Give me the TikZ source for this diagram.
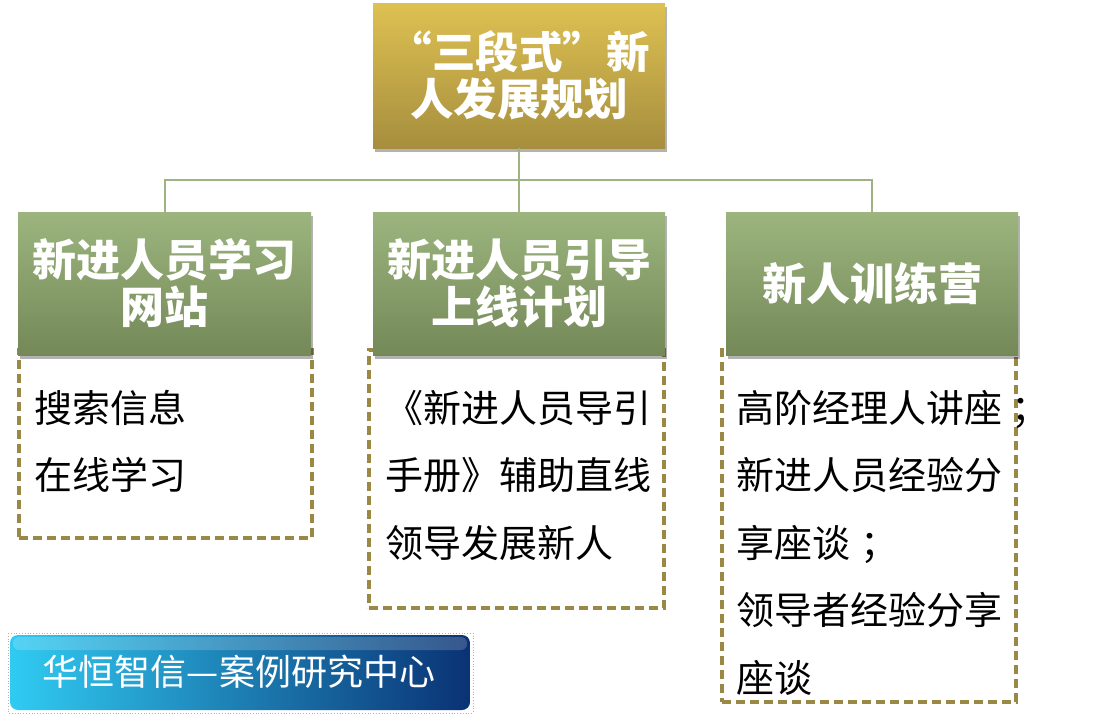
\documentclass[tikz,border=0pt]{standalone}
\usepackage{fontspec}
\newfontfamily\cjk{Noto Sans CJK SC}
\usetikzlibrary{shadows}
\definecolor{goldT}{HTML}{DEC152}
\definecolor{goldB}{HTML}{A68E3E}
\definecolor{grnT}{HTML}{9CB57E}
\definecolor{grnB}{HTML}{748858}
\definecolor{connc}{HTML}{9DB384}
\definecolor{dashc}{HTML}{9A8846}
\definecolor{logoL}{HTML}{30CBF2}
\definecolor{logoM}{HTML}{1A8CCB}
\definecolor{logoR}{HTML}{0A3274}
\begin{document}
\begin{tikzpicture}[x=1pt,y=-1pt,
  boxshadow/.style={drop shadow={shadow xshift=2pt,shadow yshift=-4pt,opacity=0.3,fill=black}},
  goldbox/.style={boxshadow,top color=goldT,bottom color=goldB,minimum width=292pt,minimum height=145pt,inner sep=0pt,
    align=center,text=white,font=\cjk\bfseries\fontsize{43.5}{47}\selectfont},
  greenbox/.style={boxshadow,top color=grnT,bottom color=grnB,minimum width=293pt,minimum height=143pt,inner sep=0pt,
    align=center,text=white,font=\cjk\bfseries\fontsize{44}{47}\selectfont},
  dashbox/.style={draw=dashc,line width=3.5pt,dash pattern=on 9pt off 5pt,inner sep=0pt},
  bodytext/.style={anchor=base west,inner sep=0pt,text=black,font=\cjk\fontsize{38}{38}\selectfont},
  connline/.style={draw=connc,line width=2pt}]
\useasboundingbox (0,0) rectangle (1108,723);
\fill[white] (0,0) rectangle (1108,723);

% dashed content boxes (behind headers)
\node[dashbox,minimum width=293pt,minimum height=188pt] (d1) at (165.5,444) {};
\node[dashbox,minimum width=295pt,minimum height=258pt] (d2) at (516.5,479) {};
\node[dashbox,minimum width=294pt,minimum height=352pt] (d3) at (869,526) {};

% bus coordinates
\coordinate (busL) at (164.5,180);
\coordinate (busR) at (872,180);

% top box
\node[goldbox] (top) at (519,75.5) {“三段式”新\\人发展规划};

% green headers
\node[greenbox] (g1) at (164.5,283.5) {新进人员学习\\网站};
\node[greenbox,minimum width=292pt] (g2) at (519,283.5) {新进人员引导\\上线计划};
\node[greenbox,minimum width=292pt] (g3) at (872,283.5) {新人训练营};

% connectors
\draw[connline] (top.south) -- (g2.north);
\draw[connline] (g1.north) -- (busL) -- (busR) -- (g3.north);

% body texts
\node[bodytext] (a1) at (34,422) {搜索信息};
\node[bodytext] (a2) at (34,489) {在线学习};

\node[bodytext] (b1) at (385,422) {《新进人员导引};
\node[bodytext] (b2) at (385,489) {手册》辅助直线};
\node[bodytext] (b3) at (385,557) {领导发展新人};

\node[bodytext] (c1) at (736,422) {高阶经理人讲座\hspace{9pt}；};
\node[bodytext] (c2) at (736,489) {新进人员经验分};
\node[bodytext] (c3) at (736,557) {享座谈\hspace{10pt}；};
\node[bodytext] (c4) at (736,624) {领导者经验分享};
\node[bodytext] (c5) at (736,692) {座谈};

% logo
\draw[gray!60,line width=0.8pt,dotted] (8,633) rectangle (473,713);
\node[rounded corners=8pt,left color=logoL,middle color=logoM,right color=logoR,
  minimum width=460pt,minimum height=75pt,inner sep=0pt] (logo) at (240,672.5) {};
\fill[white,opacity=0.18,rounded corners=6pt] (13,637) rectangle (467,650);
\node[text=white,inner sep=0pt,font=\cjk\fontsize{36}{36}\selectfont] (logotext) at (239,672) {华恒智信—案例研究中心};
\end{tikzpicture}
\end{document}
